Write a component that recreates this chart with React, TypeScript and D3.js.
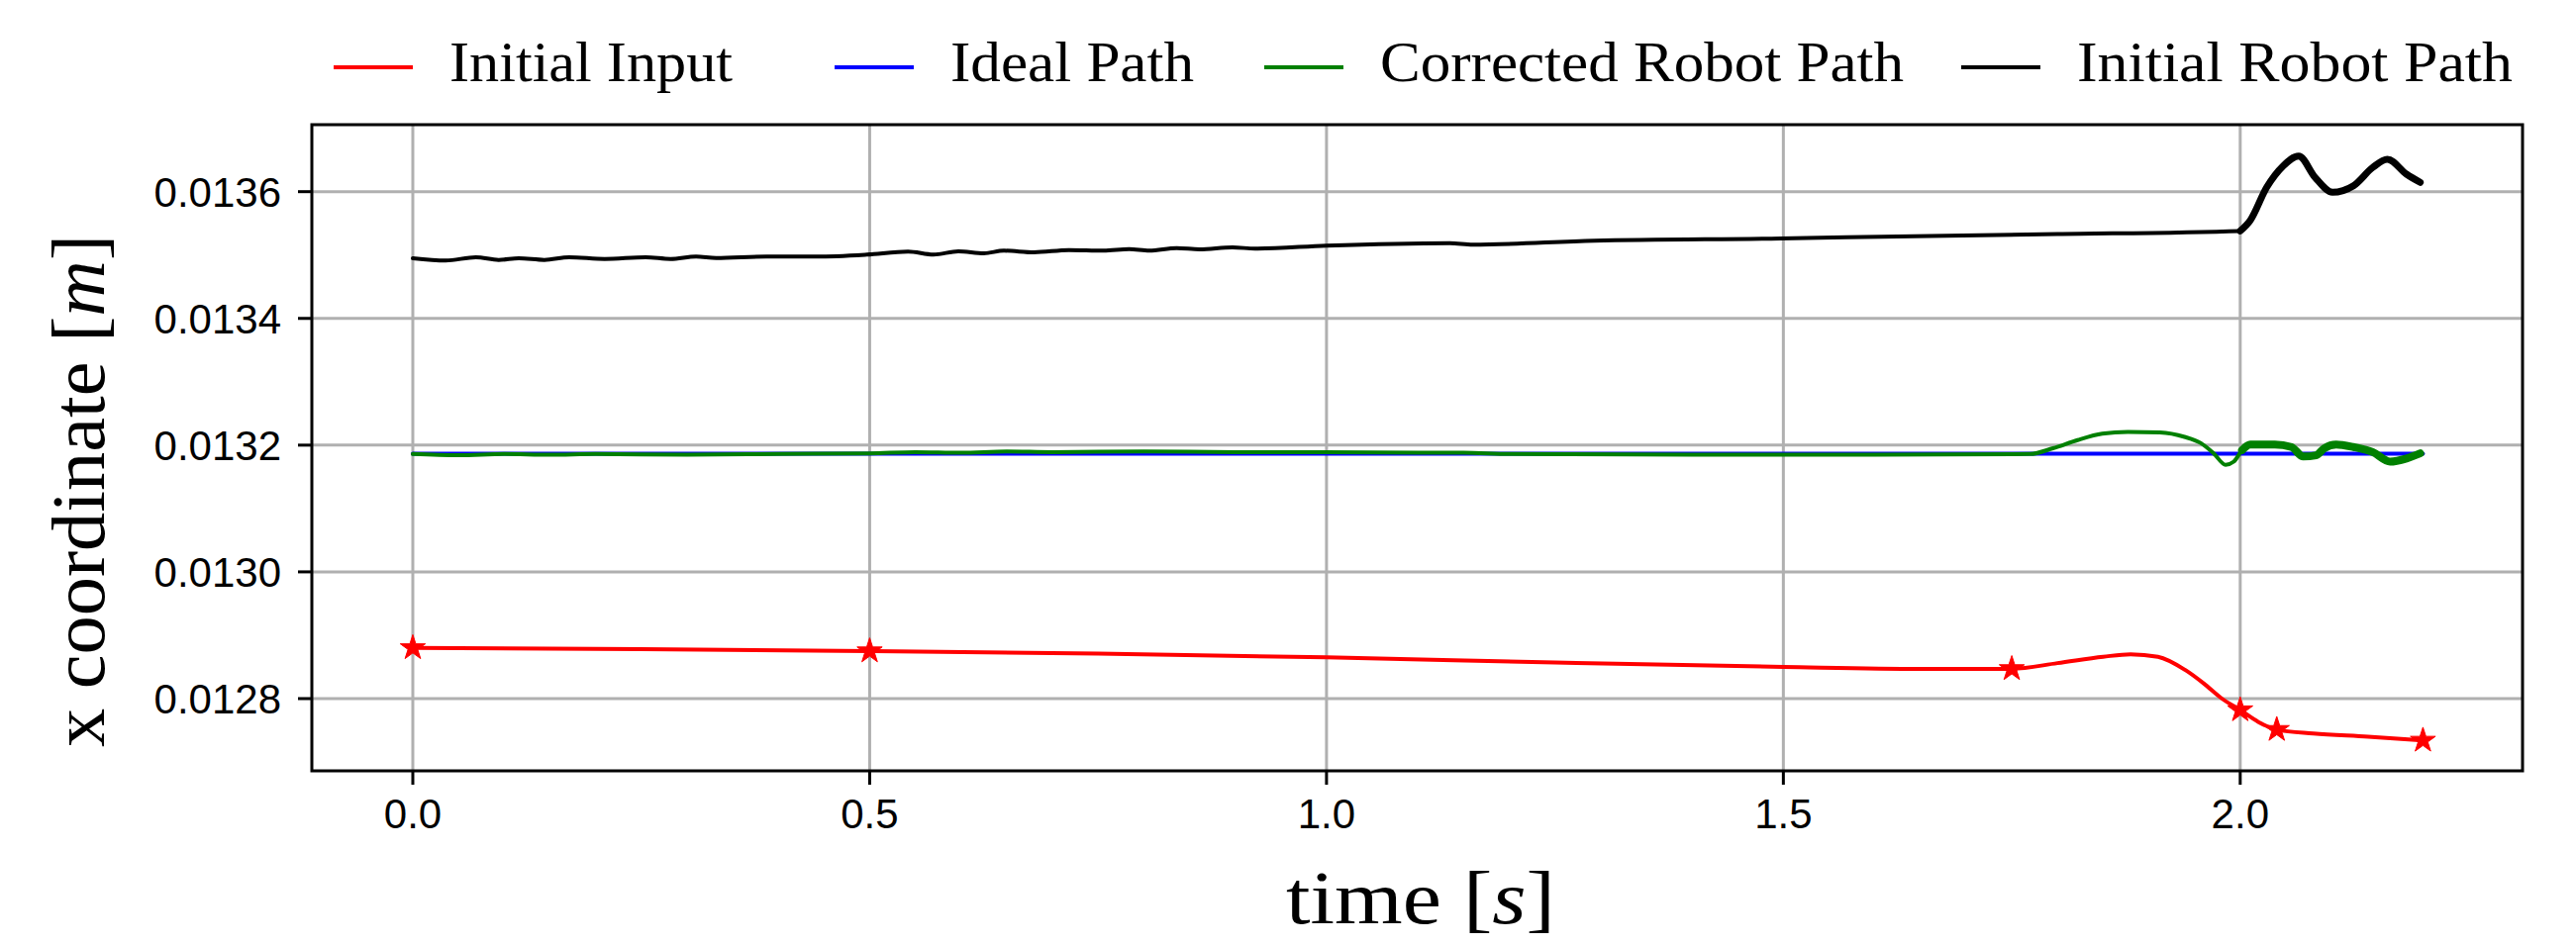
import React, { useEffect } from "react";
import * as d3 from "d3";

// ---------- data ----------
const xTicks = [0, 0.5, 1.0, 1.5, 2.0];
const yTicks = [0.0128, 0.013, 0.0132, 0.0134, 0.0136];

const legendLabels = ["Initial Input", "Ideal Path", "Corrected Robot Path", "Initial Robot Path"];
const seriesColors = ["#ff0000", "#0000ff", "#008000", "#000000"];

// Initial Input waypoints (stars)
const inputStars: [number, number][] = [
  [0, 0.01288], [0.5, 0.012875], [1.75, 0.012847], [2.0, 0.012782], [2.04, 0.012751], [2.2, 0.012734],
];
// Initial Input interpolated curve
const inputCurve: [number, number][] = [
  [0, 0.01288], [0.25, 0.012878], [0.5, 0.012875], [0.75, 0.012871], [1.0, 0.012865], [1.25, 0.012857],
  [1.5, 0.01285], [1.65, 0.012847], [1.75, 0.012847], [1.8, 0.012856], [1.85, 0.012866], [1.88, 0.01287],
  [1.91, 0.012866], [1.94, 0.012845], [1.96, 0.012824], [1.98, 0.0128], [2.0, 0.012782], [2.02, 0.012763],
  [2.04, 0.012751], [2.08, 0.012745], [2.14, 0.01274], [2.2, 0.012734],
];
// Ideal Path
const idealPath: [number, number][] = [
  [0, 0.0131863], [2.2, 0.0131863],
];
// Corrected Robot Path
const correctedPath: [number, number][] = [
  [0, 0.013186], [0.05, 0.013184], [0.1, 0.013186], [0.15, 0.013185], [0.2, 0.013186], [0.3, 0.013185],
  [0.4, 0.013186], [0.5, 0.013187], [0.55, 0.013189], [0.6, 0.013188], [0.65, 0.01319], [0.7, 0.013189],
  [0.8, 0.01319], [0.9, 0.013189], [1.0, 0.013189], [1.1, 0.013188], [1.15, 0.013188], [1.2, 0.013186],
  [1.4, 0.013185], [1.6, 0.013185], [1.77, 0.013186], [1.795, 0.013195], [1.822, 0.013208], [1.849, 0.013218],
  [1.877, 0.013221], [1.912, 0.01322], [1.939, 0.013213], [1.957, 0.013203], [1.971, 0.013187], [1.984, 0.013169],
  [1.993, 0.013174], [2.002, 0.013192], [2.011, 0.013201], [2.038, 0.013201], [2.056, 0.013197], [2.069, 0.013182],
  [2.083, 0.013184], [2.092, 0.013195], [2.105, 0.013201], [2.124, 0.013197], [2.145, 0.013189], [2.164, 0.013174],
  [2.182, 0.013179], [2.197, 0.013187],
];
// Initial Robot Path
const initialRobotPath: [number, number][] = [
  [0, 0.0134949], [0.036, 0.0134913], [0.069, 0.0134965], [0.094, 0.0134923], [0.116, 0.0134949], [0.144, 0.0134923],
  [0.171, 0.0134965], [0.21, 0.0134938], [0.255, 0.0134965], [0.282, 0.0134938], [0.31, 0.0134976], [0.332, 0.0134954],
  [0.387, 0.0134976], [0.442, 0.0134976], [0.497, 0.0135007], [0.542, 0.0135054], [0.57, 0.0135007], [0.597, 0.0135059],
  [0.625, 0.0135027], [0.647, 0.0135069], [0.68, 0.0135043], [0.718, 0.0135079], [0.756, 0.0135069], [0.784, 0.0135094],
  [0.806, 0.0135069], [0.836, 0.013511], [0.861, 0.013509], [0.897, 0.0135121], [0.922, 0.0135101], [1.0, 0.0135148],
  [1.135, 0.0135188], [1.16, 0.0135163], [1.293, 0.0135226], [1.497, 0.0135262], [1.607, 0.013529], [1.8, 0.013533],
  [2.0, 0.013538], [2.011, 0.0135547], [2.029, 0.0136069], [2.047, 0.0136406], [2.064, 0.0136562], [2.082, 0.0136225],
  [2.101, 0.0135991], [2.124, 0.0136094], [2.145, 0.0136381], [2.161, 0.0136511], [2.182, 0.0136276], [2.197, 0.0136147],
];

// ---------- layout ----------
const W = 2602, H = 955;
const plot = { left: 315, right: 2548, top: 126, bottom: 779 };
const xDomain: [number, number] = [-0.1105, 2.309];
const yDomain: [number, number] = [0.012686, 0.0137057];
const legendHandleX = [337, 843, 1277, 1981];
const legendTextWidth = [286, 246, 529, 440];

export default function App() {
  useEffect(() => {
    document.body.style.margin = "0";
  }, []);

  const x = d3.scaleLinear().domain(xDomain).range([plot.left, plot.right]);
  const y = d3.scaleLinear().domain(yDomain).range([plot.bottom, plot.top]);
  const line = d3
    .line<[number, number]>()
    .x((d) => x(d[0]))
    .y((d) => y(d[1]))
    .curve(d3.curveMonotoneX);

  const star = d3.symbol().type(d3.symbolStar).size(200)();
  const tickFont = "'Liberation Sans', Arial, sans-serif";
  const serif = "'Liberation Serif', 'Times New Roman', serif";
  const lw = 4;

  const series = [
    { data: inputCurve, color: seriesColors[0] },
    { data: idealPath, color: seriesColors[1] },
    { data: correctedPath, color: seriesColors[2] },
    { data: initialRobotPath, color: seriesColors[3] },
  ];

  return (
    <svg width={W} height={H} style={{ position: "absolute", left: 0, top: 0, display: "block", background: "#fff" }}>
      <rect x={0} y={0} width={W} height={H} fill="#fff" />
      {/* grid */}
      <g stroke="#b0b0b0" strokeWidth={3}>
        {xTicks.map((t) => (
          <line key={"gx" + t} x1={x(t)} x2={x(t)} y1={plot.top} y2={plot.bottom} />
        ))}
        {yTicks.map((t) => (
          <line key={"gy" + t} x1={plot.left} x2={plot.right} y1={y(t)} y2={y(t)} />
        ))}
      </g>
      <defs>
        <clipPath id="clip">
          <rect x={plot.left} y={plot.top} width={plot.right - plot.left} height={plot.bottom - plot.top} />
        </clipPath>
      </defs>
      <g clipPath="url(#clip)" fill="none" strokeLinejoin="round" strokeLinecap="round">
        {series.map((s, i) => (
          <path key={i} d={line(s.data) || ""} stroke={s.color} strokeWidth={lw} />
        ))}
        {/* denser, noisy tail segments */}
        <path d={line(correctedPath.filter((d) => d[0] >= 2.0)) || ""} stroke={seriesColors[2]} strokeWidth={8} />
        <path d={line(initialRobotPath.filter((d) => d[0] >= 2.0)) || ""} stroke={seriesColors[3]} strokeWidth={7} />
      </g>
      {inputStars.map((d, i) => (
        <path key={"s" + i} d={star || ""} transform={`translate(${x(d[0])},${y(d[1])})`} fill="#ff0000" stroke="#ff0000" strokeWidth={1} />
      ))}
      {/* spines */}
      <rect x={plot.left} y={plot.top} width={plot.right - plot.left} height={plot.bottom - plot.top} fill="none" stroke="#000" strokeWidth={3} />
      {/* x ticks */}
      {xTicks.map((t) => (
        <g key={"xt" + t}>
          <line x1={x(t)} x2={x(t)} y1={plot.bottom} y2={plot.bottom + 14} stroke="#000" strokeWidth={3} />
          <text x={x(t)} y={837} textAnchor="middle" fontFamily={tickFont} fontSize={42} fill="#000">
            {t.toFixed(1)}
          </text>
        </g>
      ))}
      {/* y ticks */}
      {yTicks.map((t) => (
        <g key={"yt" + t}>
          <line x1={plot.left - 14} x2={plot.left} y1={y(t)} y2={y(t)} stroke="#000" strokeWidth={3} />
          <text x={284} y={y(t) + 15} textAnchor="end" fontFamily={tickFont} fontSize={42} fill="#000">
            {t.toFixed(4)}
          </text>
        </g>
      ))}
      {/* axis labels */}
      <text x={1435} y={933} textAnchor="middle" fontFamily={serif} fontSize={76} fill="#000" textLength={272} lengthAdjust="spacingAndGlyphs">
        time [<tspan fontStyle="italic">s</tspan>]
      </text>
      <text
        transform={`translate(105,496) rotate(-90)`}
        textAnchor="middle"
        fontFamily={serif}
        fontSize={76}
        fill="#000"
        textLength={518}
        lengthAdjust="spacingAndGlyphs"
      >
        x coordinate [<tspan fontStyle="italic">m</tspan>]
      </text>
      {/* legend */}
      {legendLabels.map((lab, i) => (
        <g key={"lg" + i}>
          <line x1={legendHandleX[i]} x2={legendHandleX[i] + 80} y1={68} y2={68} stroke={seriesColors[i]} strokeWidth={lw} />
          <text
            x={legendHandleX[i] + 117}
            y={82}
            fontFamily={serif}
            fontSize={58}
            fill="#000"
            textLength={legendTextWidth[i]}
            lengthAdjust="spacingAndGlyphs"
          >
            {lab}
          </text>
        </g>
      ))}
    </svg>
  );
}
